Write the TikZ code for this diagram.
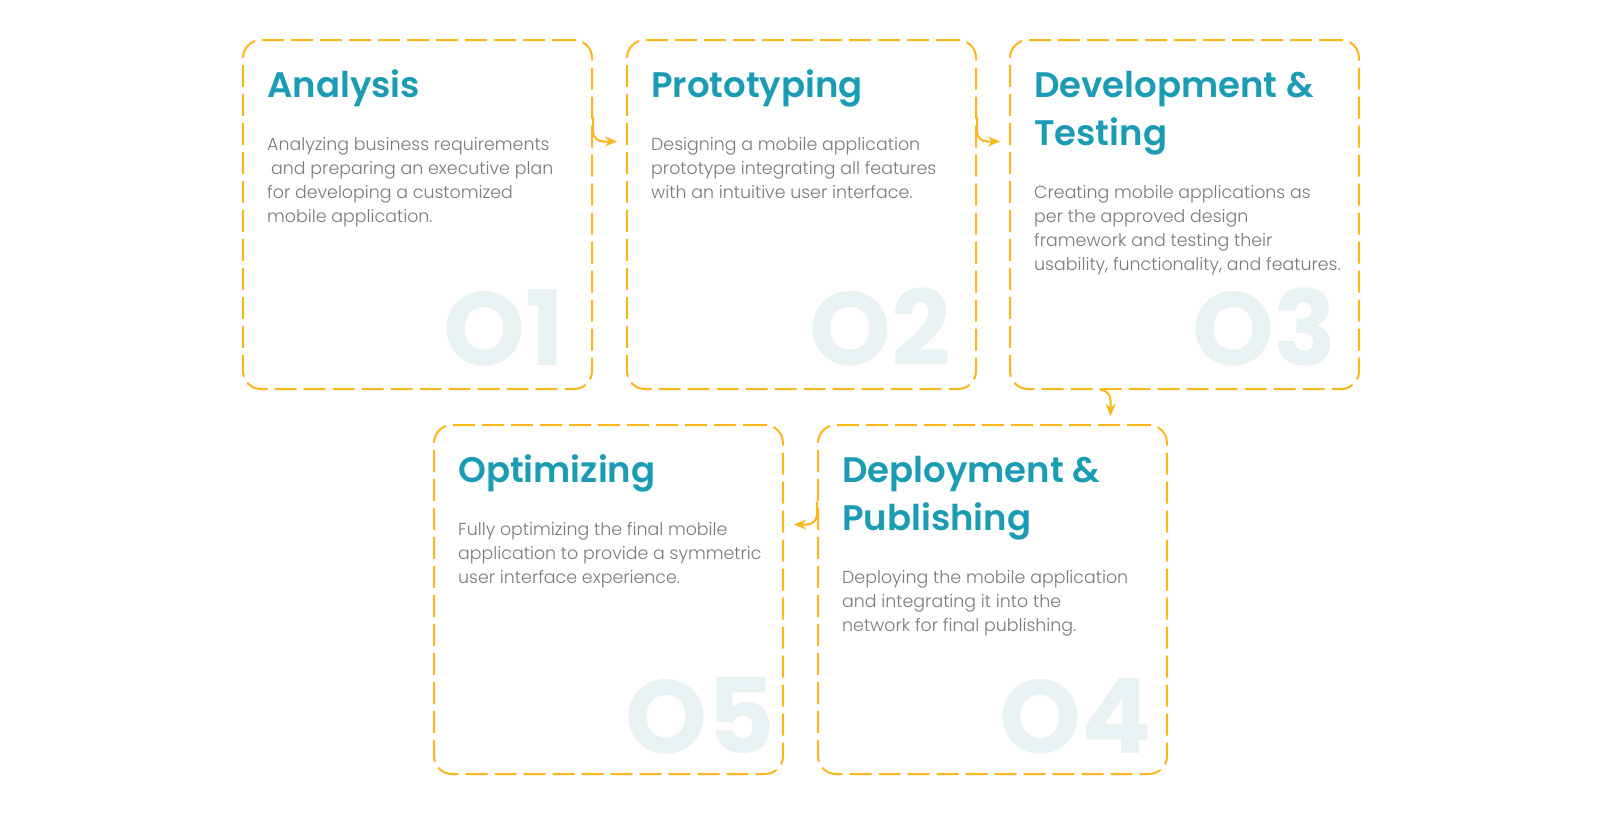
\documentclass[tikz,border=0pt]{standalone}
\usepackage{fontspec}
\newfontfamily\titlefont{Poppins SemiBold}
\newfontfamily\bodyfont{Poppins Light}
\newfontfamily\numfont{Poppins Bold}
\usetikzlibrary{arrows.meta}
\definecolor{orng}{HTML}{FBB61A}
\definecolor{teal2}{HTML}{1A9CB5}
\definecolor{gray2}{HTML}{7A7A7A}
\definecolor{numc}{HTML}{E9F2F3}
\tikzset{
 card/.style={draw=orng, line width=2pt, dash pattern=on 22pt off 7pt, rounded corners=18pt, minimum width=349pt, minimum height=349pt, inner sep=0pt, anchor=north west},
 ttl/.style={anchor=base west, inner sep=0pt, font=\titlefont\fontsize{35.5}{48}\selectfont, text=teal2, align=left},
 body/.style={anchor=base west, inner sep=0pt, font=\bodyfont\fontsize{17.4}{24}\selectfont, text=gray2, align=left},
 num/.style={anchor=base east, inner sep=0pt, font=\numfont\fontsize{104}{104}\selectfont, text=numc},
 conn/.style={draw=orng, line width=2pt, rounded corners=10pt, -{Stealth[length=12pt,width=10pt]}},
}
\begin{document}
\begin{tikzpicture}[x=1pt,y=-1pt]
\useasboundingbox[fill=white] (0,0) rectangle (1600,817);
% cards
\node[card] (b1) at (242,39) {};
\node[card] (b2) at (626,39) {};
\node[card] (b3) at (1009,39) {};
\node[card] (b4) at (817,424) {};
\node[card] (b5) at (433,424) {};
% numbers
\node[num] (n1) at ([xshift=-28pt,yshift=25pt]b1.south east) {O1};
\node[num] (n2) at ([xshift=-26pt,yshift=25pt]b2.south east) {O2};
\node[num] (n3) at ([xshift=-23pt,yshift=25pt]b3.south east) {O3};
\node[num] (n4) at ([xshift=-16pt,yshift=22pt]b4.south east) {O4};
\node[num] (n5) at ([xshift=-9pt,yshift=22pt]b5.south east) {O5};
% titles (base = last line)
\node[ttl] (t1) at ([xshift=25pt,yshift=-58pt]b1.north west) {Analysis};
\node[ttl] (t2) at ([xshift=25pt,yshift=-58pt]b2.north west) {Prototyping};
\node[ttl] (t3) at ([xshift=25pt,yshift=-106pt]b3.north west) {Development \&\\Testing};
\node[ttl] (t4) at ([xshift=25pt,yshift=-106pt]b4.north west) {Deployment \&\\Publishing};
\node[ttl] (t5) at ([xshift=25pt,yshift=-58pt]b5.north west) {Optimizing};
% bodies (base = last line)
\node[body] (d1) at ([xshift=25pt,yshift=-183pt]b1.north west) {Analyzing business requirements\\\hspace*{4pt}and preparing an executive plan\\for developing a customized\\mobile application.};
\node[body] (d2) at ([xshift=25pt,yshift=-159pt]b2.north west) {Designing a mobile application\\prototype integrating all features\\with an intuitive user interface.};
\node[body] (d3) at ([xshift=25pt,yshift=-231pt]b3.north west) {Creating mobile applications as\\per the approved design\\framework and testing their\\usability, functionality, and features.};
\node[body] (d4) at ([xshift=25pt,yshift=-207pt]b4.north west) {Deploying the mobile application\\and integrating it into the\\network for final publishing.};
\node[body] (d5) at ([xshift=25pt,yshift=-159pt]b5.north west) {Fully optimizing the final mobile\\application to provide a symmetric\\user interface experience.};
% connectors
\draw[conn] ([yshift=98pt]b1.east) |- ([xshift=-9pt,yshift=73pt]b2.west);
\draw[conn] ([yshift=98pt]b2.east) |- ([xshift=-9pt,yshift=73pt]b3.west);
\draw[conn] ([xshift=-84pt]b3.south) -| ([xshift=118pt,yshift=8pt]b4.north);
\draw[conn] ([yshift=98pt]b4.west) |- ([xshift=10pt,yshift=75pt]b5.east);
\end{tikzpicture}
\end{document}
